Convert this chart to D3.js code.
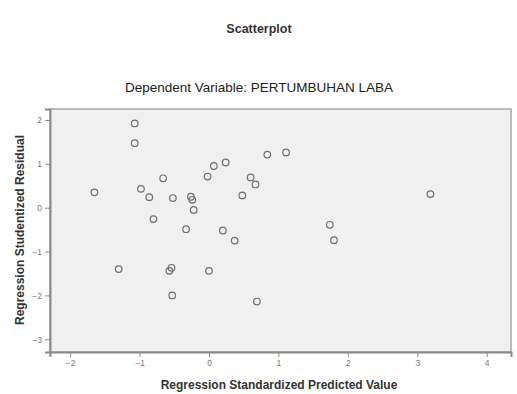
<!DOCTYPE html>
<html>
<head>
<meta charset="utf-8">
<script src="https://cdn.jsdelivr.net/npm/d3@7"></script>
<style>
  body { margin: 0; background: #fff; }
  text { font-family: "Liberation Sans", Arial, sans-serif; }
</style>
</head>
<body>
<script>
// standardized predicted value vs studentized residual
var predicted = [-1.07, -1.07, -1.65, -0.66, -0.98, -0.86, -0.52, -0.26, -0.24, -0.22,
                 -0.80, -0.33, -0.02, 0.07, 0.24, 0.60, 0.67, 0.48, 0.84, 1.11,
                 0.20, 0.37, -1.30, -0.57, -0.54, 0.00, -0.53, 0.69, 1.74, 1.80, 3.19];
var residual  = [1.92, 1.47, 0.35, 0.67, 0.43, 0.24, 0.22, 0.25, 0.18, -0.05,
                 -0.26, -0.49, 0.71, 0.95, 1.03, 0.69, 0.53, 0.28, 1.21, 1.26,
                 -0.52, -0.75, -1.40, -1.44, -1.37, -1.44, -2.00, -2.14, -0.39, -0.74, 0.31];
var xTicks = [-2, -1, 0, 1, 2, 3, 4];
var yTicks = [-3, -2, -1, 0, 1, 2];

var W = 517, H = 394;
var margin = {top: 109, right: 6, bottom: 42, left: 50},
    width = W - margin.left - margin.right,
    height = H - margin.top - margin.bottom;

var svg = d3.select("body")
    .append("svg")
    .attr("width", W)
    .attr("height", H);

var g = svg.append("g")
    .attr("transform", "translate(" + margin.left + "," + margin.top + ")");

var xScale = d3.scaleLinear().domain([-2.29, 4.35]).range([0, width]);
var yScale = d3.scaleLinear().domain([-3.29, 2.25]).range([height, 0]);

// plot background
g.append("rect")
    .attr("width", width)
    .attr("height", height)
    .attr("fill", "#f0f0f0")
    .attr("stroke", "#a8a8a8")
    .attr("stroke-width", 1.5);

var xaxis = d3.axisBottom(xScale).tickValues(xTicks).tickSize(5).tickFormat(d3.format("d"));
var yaxis = d3.axisLeft(yScale).tickValues(yTicks).tickSize(5).tickFormat(d3.format("d"));

var gx = g.append("g")
    .attr("transform", "translate(0," + height + ")")
    .call(xaxis);
var gy = g.append("g").call(yaxis);

[gx, gy].forEach(function(a) {
    a.select(".domain").attr("stroke", "#8a8a8a").attr("stroke-width", 2);
    a.selectAll(".tick line").attr("stroke", "#8a8a8a");
    a.selectAll(".tick text")
        .attr("fill", "#777")
        .style("font-size", "8.5px");
});

// the points
g.selectAll("circle.point")
    .data(predicted.map(function(d, i) { return [d, residual[i]]; }))
    .enter()
    .append("circle")
    .attr("class", "point")
    .attr("cx", function(d) { return xScale(d[0]); })
    .attr("cy", function(d) { return yScale(d[1]); })
    .attr("r", 3.3)
    .attr("fill", "none")
    .attr("stroke", "#707070")
    .attr("stroke-width", 1.2);

// titles
svg.append("text")
    .attr("x", 259)
    .attr("y", 33)
    .style("text-anchor", "middle")
    .style("font-size", "12.5px")
    .style("font-weight", "bold")
    .attr("fill", "#333")
    .text("Scatterplot");

svg.append("text")
    .attr("x", 259)
    .attr("y", 92)
    .style("text-anchor", "middle")
    .style("font-size", "13.5px")
    .attr("fill", "#222")
    .text("Dependent Variable: PERTUMBUHAN LABA");

svg.append("text")
    .attr("x", 279)
    .attr("y", 389)
    .style("text-anchor", "middle")
    .style("font-size", "12px")
    .style("font-weight", "bold")
    .attr("fill", "#333")
    .text("Regression Standardized Predicted Value");

svg.append("text")
    .attr("transform", "translate(24,230) rotate(-90)")
    .style("text-anchor", "middle")
    .style("font-size", "12px")
    .style("font-weight", "bold")
    .attr("fill", "#333")
    .text("Regression Studentized Residual");
</script>
</body>
</html>
